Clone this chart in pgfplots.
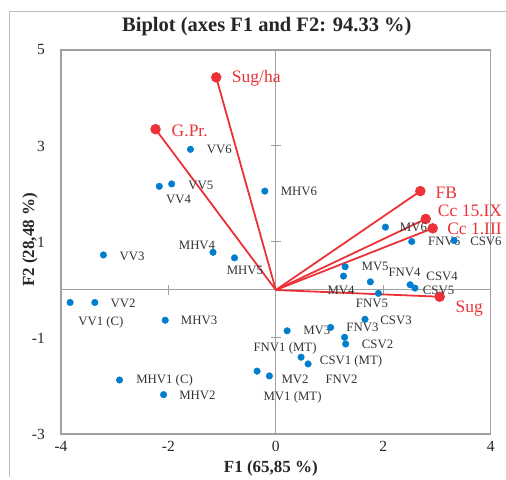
\documentclass[border=0pt]{standalone}
\usepackage{fontspec}
\setmainfont{Liberation Serif}
\usepackage{pgfplots}
\pgfplotsset{compat=1.18}
\definecolor{obsblue}{RGB}{0,125,205}
\definecolor{varred}{RGB}{236,50,56}
\definecolor{framegray}{RGB}{160,160,160}
\begin{document}
\begin{tikzpicture}
\begin{axis}[
  name=main,
  scale only axis, width=429.7pt, height=384pt,
  xmin=-4, xmax=4, ymin=-3, ymax=5,
  xtick={-4,-2,0,2,4}, ytick={-3,-1,1,3,5},
  major tick length=0pt,
  axis line style={framegray, line width=1.3pt},
  /pgf/number format/assume math mode=true,
  tick label style={font=\fontsize{15.5}{18}\selectfont, text=black!85},
  xticklabel style={anchor=north, inner sep=0pt, yshift=-7pt},
  yticklabel style={anchor=east, inner sep=0pt, xshift=-16pt},
  title={\textbf{Biplot (axes F1 and F2: 94.33 \%)}},
  title style={font=\fontsize{20.5}{24}\selectfont, at={(axis description cs:0.5,1)}, anchor=center, xshift=-9pt, yshift=17pt, text=black!85},
  xlabel={\textbf{F1 (65,85 \%)}},
  xlabel style={font=\fontsize{17}{20}\selectfont, at={(axis description cs:0.5,0)}, anchor=center, yshift=-34pt, xshift=-5pt, text=black!85},
  ylabel={\textbf{F2 (28,48 \%)}},
  ylabel style={font=\fontsize{17}{20}\selectfont, at={(axis description cs:0,0.5)}, anchor=center, yshift=31pt, xshift=2pt, text=black!85},
  clip=false,
]
\coordinate (BL) at (rel axis cs:0,0);
% zero axes with ticks
\draw[framegray, line width=1pt] (axis cs:0,-3) -- (axis cs:0,5);
\draw[framegray, line width=1pt] (axis cs:-4,0) -- (axis cs:4,0);
\pgfplotsinvokeforeach{-1,1,3}{\draw[framegray, line width=1pt] ([xshift=-5pt]axis cs:0,#1) -- ([xshift=5pt]axis cs:0,#1);}
\pgfplotsinvokeforeach{-2,2}{\draw[framegray, line width=1pt] ([yshift=-5pt]axis cs:#1,0) -- ([yshift=5pt]axis cs:#1,0);}

% variable vectors
\addplot[varred, line width=1.8pt, mark=*, mark size=4.3pt, mark indices={2}] coordinates {(0,0) (-1.11,4.43)};
\addplot[varred, line width=1.8pt, mark=*, mark size=4.3pt, mark indices={2}] coordinates {(0,0) (-2.24,3.35)};
\addplot[varred, line width=1.8pt, mark=*, mark size=4.3pt, mark indices={2}] coordinates {(0,0) (2.69,2.06)};
\addplot[varred, line width=1.8pt, mark=*, mark size=4.3pt, mark indices={2}] coordinates {(0,0) (2.79,1.48)};
\addplot[varred, line width=1.8pt, mark=*, mark size=4.3pt, mark indices={2}] coordinates {(0,0) (2.92,1.285)};
\addplot[varred, line width=1.8pt, mark=*, mark size=4.3pt, mark indices={2}] coordinates {(0,0) (3.05,-0.14)};

% variable labels
\addplot[only marks, mark=none, varred,
  visualization depends on={value \thisrow{dx}\as\dx},
  visualization depends on={value \thisrow{dy}\as\dy},
  nodes near coords, point meta=explicit symbolic,
  every node near coord/.append style={anchor=center, inner sep=0pt, xshift=\dx pt, yshift=\dy pt, text=varred, font=\fontsize{17.5}{20}\selectfont}]
  table[x=x, y=y, meta=label, col sep=comma, row sep=\\] {
x,y,dx,dy,label\\
-1.11,4.43,40,-1,Sug/ha\\
-2.24,3.35,34.2,-1.4,G.Pr.\\
2.69,2.06,26,-1.4,FB\\
2.79,1.48,44.3,8.3,Cc 15.IX\\
2.92,1.285,41.8,-1,Cc 1.III\\
3.05,-0.14,29.5,-11.6,Sug\\
};

% observations
\addplot[only marks, mark=*, mark size=3.3pt, color=obsblue,
  visualization depends on={value \thisrow{dx}\as\dx},
  visualization depends on={value \thisrow{dy}\as\dy},
  nodes near coords, point meta=explicit symbolic,
  every node near coord/.append style={anchor=center, inner sep=0pt, xshift=\dx pt, yshift=\dy pt, text=black!80, font=\fontsize{12.8}{15}\selectfont}]
  table[x=x, y=y, meta=label, col sep=comma, row sep=\\] {
x,y,dx,dy,label\\
-3.83,-0.26,30.8,-20,VV1 (C)\\
-3.37,-0.26,28.2,-0.6,VV2\\
-3.21,0.73,28.7,-1,VV3\\
-2.17,2.16,19.3,-12.7,VV4\\
-1.94,2.21,29.2,-1,VV5\\
-1.59,2.93,28.9,0,VV6\\
-2.91,-1.875,45,0,MHV1 (C)\\
-2.09,-2.18,33.9,-1,MHV2\\
-2.06,-0.63,33.9,-0.4,MHV3\\
-1.17,0.785,-16,6.6,MHV4\\
-0.77,0.67,10.4,-13,MHV5\\
-0.205,2.06,34.1,-0.7,MHV6\\
-0.35,-1.69,35.5,-26,MV1 (MT)\\
-0.12,-1.79,25.7,-3.3,MV2\\
0.21,-0.85,29.7,0,MV3\\
0.47,-1.40,-16,9,FNV1 (MT)\\
0.60,-1.54,43,2.3,CSV1 (MT)\\
1.28,-0.985,-3,-42,FNV2\\
1.30,-1.125,31.9,0,CSV2\\
1.02,-0.78,31.8,0,FNV3\\
1.66,-0.61,31,-0.7,CSV3\\
1.26,0.29,-2.5,-14.7,MV4\\
1.29,0.485,30,0,MV5\\
1.76,0.17,34.2,9.3,FNV4\\
1.91,-0.07,-6.5,-10,FNV5\\
2.50,0.11,32,8,CSV4\\
2.59,0.04,23.6,-2,CSV5\\
2.04,1.31,28,0,MV6\\
2.53,1.01,32.5,0,FNV6\\
3.32,1.03,31.8,-1,CSV6\\
};
\end{axis}
\useasboundingbox ([xshift=-61pt,yshift=-43pt]main.south west) rectangle ([xshift=15.3pt,yshift=50pt]main.north east);
\draw[framegray!70, line width=1pt] ([xshift=-51pt,yshift=-43pt]BL) -- ++(0pt,465pt) -- ++(500pt,0pt);
\end{tikzpicture}
\end{document}
